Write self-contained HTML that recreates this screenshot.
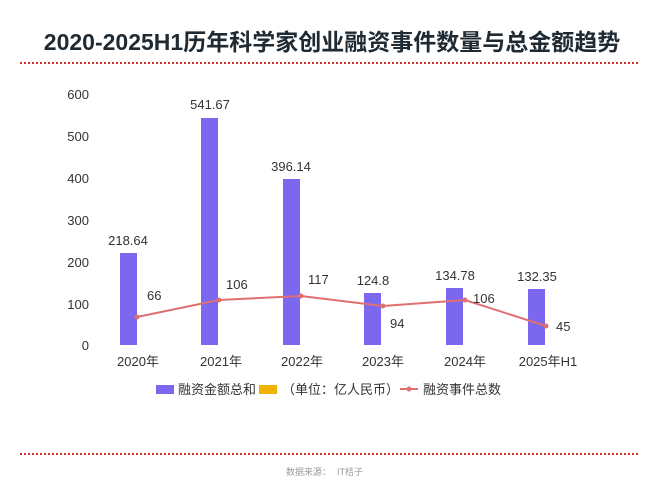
<!DOCTYPE html>
<html><head><meta charset="utf-8"><style>
body{margin:0;width:660px;height:495px;background:#fff;overflow:hidden;font-family:"Liberation Sans","Noto Sans CJK SC",sans-serif}
</style></head><body>
<svg width="660" height="495" xmlns="http://www.w3.org/2000/svg" font-family="Liberation Sans, Noto Sans CJK SC, sans-serif">
<text x="332" y="50" text-anchor="middle" font-size="23" font-weight="bold" fill="#1f2a33">2020-2025H1历年科学家创业融资事件数量与总金额趋势</text>
<line x1="20" y1="63" x2="640" y2="63" stroke="#d03030" stroke-width="2" stroke-dasharray="2,2"/>
<g font-size="13" fill="#333" text-anchor="end">
<text x="89" y="99">600</text><text x="89" y="141">500</text><text x="89" y="183">400</text>
<text x="89" y="225">300</text><text x="89" y="267">200</text><text x="89" y="309">100</text><text x="89" y="350">0</text>
</g>
<g fill="#7b68ee">
<rect x="120" y="253" width="17" height="92"/>
<rect x="201" y="118" width="17" height="227"/>
<rect x="283" y="179" width="17" height="166"/>
<rect x="364" y="293" width="17" height="52"/>
<rect x="446" y="288" width="17" height="57"/>
<rect x="528" y="289" width="17" height="56"/>
</g>
<g font-size="13" fill="#333" text-anchor="middle">
<text x="128" y="245">218.64</text><text x="210" y="109">541.67</text><text x="291" y="171">396.14</text>
<text x="373" y="285">124.8</text><text x="455" y="280">134.78</text><text x="537" y="281">132.35</text>
</g>
<polyline points="137,317 219,300 301,296 383,306 465,300 546,326" fill="none" stroke="#e07070" stroke-width="2"/>
<g fill="#e07070"><circle cx="137" cy="317" r="2.5"/><circle cx="219" cy="300" r="2.5"/><circle cx="301" cy="296" r="2.5"/><circle cx="383" cy="306" r="2.5"/><circle cx="465" cy="300" r="2.5"/><circle cx="546" cy="326" r="2.5"/></g>
<g font-size="13" fill="#333">
<text x="147" y="300">66</text><text x="226" y="289">106</text><text x="308" y="284">117</text>
<text x="390" y="328">94</text><text x="473" y="303">106</text><text x="556" y="331">45</text>
</g>
<g font-size="13" fill="#333" text-anchor="middle">
<text x="138" y="366">2020年</text><text x="221" y="366">2021年</text><text x="302" y="366">2022年</text>
<text x="383" y="366">2023年</text><text x="465" y="366">2024年</text><text x="548" y="366">2025年H1</text>
</g>
<rect x="156" y="385" width="18" height="9" fill="#7b68ee"/>
<text x="178" y="394" font-size="13" fill="#333">融资金额总和</text>
<rect x="259" y="385" width="18" height="9" fill="#f0b400"/>
<text x="282" y="394" font-size="13" fill="#333">（单位：亿人民币）</text>
<line x1="400" y1="389" x2="418" y2="389" stroke="#e07070" stroke-width="2"/><circle cx="409" cy="389" r="2.5" fill="#e07070"/>
<text x="423" y="394" font-size="13" fill="#333">融资事件总数</text>
<line x1="20" y1="454" x2="640" y2="454" stroke="#d03030" stroke-width="2" stroke-dasharray="2,2"/>
<text x="286" y="475" font-size="9" fill="#999">数据来源：</text><text x="337" y="475" font-size="9" fill="#999">IT桔子</text>
</svg>
</body></html>
